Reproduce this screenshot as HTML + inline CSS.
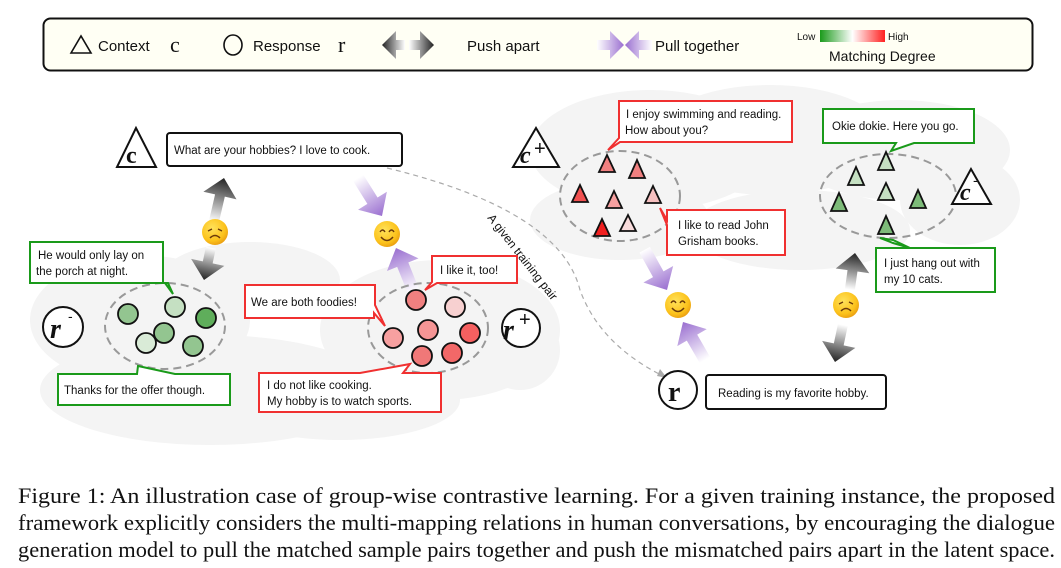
<!DOCTYPE html>
<html><head><meta charset="utf-8"><style>
html,body{margin:0;padding:0;background:#fff;}
svg{display:block;font-family:"Liberation Sans",sans-serif;}
.bt{font-size:11.5px;fill:#111;}
.cap{font-size:22px;fill:#111;}
</style></head><body>
<svg width="1061" height="568" viewBox="0 0 1061 568" xmlns="http://www.w3.org/2000/svg">
<defs>
<linearGradient id="gg" x1="0" x2="1" y1="0" y2="0"><stop offset="0" stop-color="#fff"/><stop offset="1" stop-color="#222"/></linearGradient>
<linearGradient id="ggr" x1="1" x2="0" y1="0" y2="0"><stop offset="0" stop-color="#fff"/><stop offset="1" stop-color="#222"/></linearGradient>
<linearGradient id="pg" x1="0" x2="1" y1="0" y2="0"><stop offset="0" stop-color="#fff"/><stop offset="1" stop-color="#9a6fd0"/></linearGradient>
<linearGradient id="scale" x1="0" x2="1"><stop offset="0" stop-color="#1a9a1a"/><stop offset="0.5" stop-color="#fff"/><stop offset="1" stop-color="#ff2020"/></linearGradient>
<radialGradient id="emo" cx="0.4" cy="0.35" r="0.7"><stop offset="0" stop-color="#ffe25a"/><stop offset="0.7" stop-color="#fcc21b"/><stop offset="1" stop-color="#e89a10"/></radialGradient>
</defs>

<!-- legend -->
<rect x="43.5" y="18.5" width="989" height="52" rx="7" fill="#fffff4" stroke="#111" stroke-width="2"/>
<polygon points="71,53 81,36 91,53" fill="none" stroke="#111" stroke-width="1.6"/>
<text x="98" y="51" font-size="15" fill="#111">Context</text>
<text x="170" y="52" font-size="22" font-family="Liberation Serif,serif" fill="#111">c</text>
<ellipse cx="233" cy="45" rx="9" ry="10" fill="none" stroke="#111" stroke-width="1.6"/>
<text x="253" y="51" font-size="15" fill="#111">Response</text>
<text x="338" y="52" font-size="22" font-family="Liberation Serif,serif" fill="#111">r</text>
<polygon points="382,45 396,31 396,40 405,40 405,50 396,50 396,59" fill="url(#ggr)"/>
<polygon points="420,31 434,45 420,59 420,50 409,50 409,40 420,40" fill="url(#gg)"/>
<text x="467" y="51" font-size="15" fill="#111">Push apart</text>
<polygon points="597,40 610,40 610,31 624,45 610,59 610,50 597,50" fill="url(#pg)"/>
<polygon points="625,40 638,40 638,31 652,45 638,59 638,50 625,50" fill="url(#pg)" transform="rotate(180 638.5 45)"/>
<text x="655" y="51" font-size="15" fill="#111">Pull together</text>
<text x="797" y="40" font-size="10" fill="#111">Low</text>
<rect x="820" y="30" width="65" height="12" fill="url(#scale)"/>
<text x="888" y="40" font-size="10" fill="#111">High</text>
<text x="829" y="61" font-size="14" fill="#111">Matching Degree</text>

<!-- gray clouds -->
<g fill="#f4f4f4">
<ellipse cx="140" cy="320" rx="110" ry="65"/>
<ellipse cx="250" cy="280" rx="90" ry="38"/>
<ellipse cx="210" cy="390" rx="170" ry="55"/>
<ellipse cx="340" cy="400" rx="120" ry="40"/>
<ellipse cx="440" cy="330" rx="120" ry="70"/>
<ellipse cx="520" cy="350" rx="40" ry="40"/>
<ellipse cx="650" cy="150" rx="120" ry="60"/>
<ellipse cx="770" cy="140" rx="120" ry="55"/>
<ellipse cx="900" cy="150" rx="110" ry="50"/>
<ellipse cx="620" cy="220" rx="90" ry="40"/>
<ellipse cx="800" cy="230" rx="110" ry="40"/>
<ellipse cx="960" cy="200" rx="60" ry="45"/>
</g>

<!-- dashed training pair curve -->
<path d="M387,168 Q560,210 580,290 Q600,345 665,377" fill="none" stroke="#aaa" stroke-width="1.2" stroke-dasharray="5,4"/>
<polygon points="667,378 657,376 660,369" fill="#aaa"/>
<text x="0" y="0" font-size="12" fill="#111" transform="translate(487,218) rotate(52)">A given training pair</text>

<!-- left context -->
<polygon points="136,128 117,167 156,167" fill="#fff" stroke="#111" stroke-width="2"/>
<text x="126" y="163" font-size="24" font-family="Liberation Serif,serif" font-weight="bold" fill="#111">c</text>
<rect x="167" y="133" width="235" height="33" rx="3" fill="#fff" stroke="#111" stroke-width="2"/>
<text x="174" y="154" class="bt">What are your hobbies? I love to cook.</text>

<!-- arrows -->
<g transform="translate(224,178) rotate(-77)"><polygon points="-45,-5 -18,-5 -18,-17 0,0 -18,17 -18,5 -45,5" fill="url(#gg)"/></g>
<g transform="translate(204,280) rotate(102)"><polygon points="-33,-5 -18,-5 -18,-17 0,0 -18,17 -18,5 -33,5" fill="url(#gg)"/></g>
<g transform="translate(382,216) rotate(58)"><polygon points="-45,-6 -18,-6 -18,-17 0,0 -18,17 -18,6 -45,6" fill="url(#pg)"/></g>
<g transform="translate(396,248) rotate(-112)"><polygon points="-47,-6 -18,-6 -18,-17 0,0 -18,17 -18,6 -47,6" fill="url(#pg)"/></g>
<g transform="translate(667,290) rotate(61)"><polygon points="-46,-6 -18,-6 -18,-17 0,0 -18,17 -18,6 -46,6" fill="url(#pg)"/></g>
<g transform="translate(683,322) rotate(-120)"><polygon points="-44,-6 -18,-6 -18,-17 0,0 -18,17 -18,6 -44,6" fill="url(#pg)"/></g>
<g transform="translate(855,253) rotate(-82)"><polygon points="-37,-5 -18,-5 -18,-17 0,0 -18,17 -18,5 -37,5" fill="url(#gg)"/></g>
<g transform="translate(835,362) rotate(102)"><polygon points="-38,-5 -18,-5 -18,-17 0,0 -18,17 -18,5 -38,5" fill="url(#gg)"/></g>

<!-- emojis -->
<g transform="translate(215,232)"><circle r="13" fill="url(#emo)"/><path d="M-7,-1 l4,-2 M7,-1 l-4,-2" stroke="#6b3a0a" stroke-width="1.3" fill="none"/><path d="M-5,6 Q0,1 5,6" stroke="#6b3a0a" stroke-width="1.5" fill="none"/></g>
<g transform="translate(387,234)"><circle r="13" fill="url(#emo)"/><path d="M-7,-2 Q-4.5,-6 -2,-2 M2,-2 Q4.5,-6 7,-2" stroke="#6b3a0a" stroke-width="1.4" fill="none"/><path d="M-6,3 Q0,10 6,3" stroke="#6b3a0a" stroke-width="1.5" fill="none"/></g>
<g transform="translate(678,305)"><circle r="13" fill="url(#emo)"/><path d="M-7,-2 Q-4.5,-6 -2,-2 M2,-2 Q4.5,-6 7,-2" stroke="#6b3a0a" stroke-width="1.4" fill="none"/><path d="M-6,3 Q0,10 6,3" stroke="#6b3a0a" stroke-width="1.5" fill="none"/></g>
<g transform="translate(846,305)"><circle r="13" fill="url(#emo)"/><path d="M-7,-1 l4,-2 M7,-1 l-4,-2" stroke="#6b3a0a" stroke-width="1.3" fill="none"/><path d="M-5,6 Q0,1 5,6" stroke="#6b3a0a" stroke-width="1.5" fill="none"/></g>

<!-- r- cluster -->
<circle cx="63" cy="327" r="20" fill="#fff" stroke="#111" stroke-width="2"/>
<text x="50" y="338" font-size="28" font-style="italic" font-family="Liberation Serif,serif" font-weight="bold" fill="#111">r</text>
<text x="68" y="321" font-size="14" fill="#111">-</text>
<ellipse cx="165" cy="326" rx="60" ry="43" fill="none" stroke="#999" stroke-width="2" stroke-dasharray="8,5"/>
<g stroke="#111" stroke-width="1.8">
<circle cx="128" cy="314" r="10" fill="#93c590"/>
<circle cx="175" cy="307" r="10" fill="#c5e0c2"/>
<circle cx="206" cy="318" r="10" fill="#5fae5b"/>
<circle cx="164" cy="333" r="10" fill="#93c590"/>
<circle cx="193" cy="346" r="10" fill="#93c590"/>
<circle cx="146" cy="343" r="10" fill="#d9ebd7"/>
</g>
<path d="M30,242 H163 V283 H168 L173,294 L165,283 H30 Z" fill="#fff" stroke="#1a9a1a" stroke-width="2"/>
<text x="38" y="259" class="bt">He would only lay on</text>
<text x="36" y="275" class="bt">the porch at night.</text>
<path d="M58,374 H137 L138,366 L175,374 H230 V405 H58 Z" fill="#fff" stroke="#1a9a1a" stroke-width="2"/>
<text x="64" y="394" class="bt">Thanks for the offer though.</text>

<!-- r+ cluster -->
<ellipse cx="428" cy="328" rx="60" ry="45" fill="none" stroke="#999" stroke-width="2" stroke-dasharray="8,5"/>
<g stroke="#111" stroke-width="1.8">
<circle cx="416" cy="300" r="10" fill="#f08080"/>
<circle cx="455" cy="307" r="10" fill="#f7d0d0"/>
<circle cx="393" cy="338" r="10" fill="#f7a0a0"/>
<circle cx="428" cy="330" r="10" fill="#f59595"/>
<circle cx="470" cy="333" r="10" fill="#f56060"/>
<circle cx="422" cy="356" r="10" fill="#f07878"/>
<circle cx="452" cy="353" r="10" fill="#f26868"/>
</g>
<path d="M432,256 H517 V283 H437 L425,290 L432,282 Z" fill="#fff" stroke="#f03030" stroke-width="2"/>
<text x="440" y="274" class="bt">I like it, too!</text>
<path d="M245,285 H375 V305 L385,326 L374,313 V318 H245 Z" fill="#fff" stroke="#f03030" stroke-width="2"/>
<text x="251" y="306" class="bt">We are both foodies!</text>
<path d="M259,373 H360 L410,364 L403,373 H441 V412 H259 Z" fill="#fff" stroke="#f03030" stroke-width="2"/>
<text x="267" y="389" class="bt">I do not like cooking.</text>
<text x="267" y="405" class="bt">My hobby is to watch sports.</text>
<circle cx="521" cy="328" r="19" fill="#fff" stroke="#111" stroke-width="2"/>
<text x="503" y="339" font-size="28" font-style="italic" font-family="Liberation Serif,serif" font-weight="bold" fill="#111">r</text>
<text x="519" y="326" font-size="20" fill="#111">+</text>

<!-- c+ cluster -->
<polygon points="536,128 513,167 559,167" fill="#fff" stroke="#111" stroke-width="2"/>
<text x="520" y="163" font-size="24" font-style="italic" font-family="Liberation Serif,serif" font-weight="bold" fill="#111">c</text>
<text x="534" y="155" font-size="20" fill="#111">+</text>
<ellipse cx="620" cy="196" rx="60" ry="45" fill="none" stroke="#999" stroke-width="2" stroke-dasharray="8,5"/>
<g stroke="#111" stroke-width="1.8">
<polygon points="607,155 599,172 615,172" fill="#f08080"/>
<polygon points="637,160 629,178 645,178" fill="#f08080"/>
<polygon points="580,185 572,202 588,202" fill="#f05050"/>
<polygon points="614,191 606,208 622,208" fill="#f7a0a0"/>
<polygon points="653,186 645,203 661,203" fill="#f7c0c0"/>
<polygon points="602,219 594,236 610,236" fill="#f02020"/>
<polygon points="628,215 620,231 636,231" fill="#f9dcdc"/>
</g>
<path d="M619,101 H792 V142 H620 L608,150 L619,138 Z" fill="#fff" stroke="#f03030" stroke-width="2"/>
<text x="626" y="118" class="bt">I enjoy swimming and reading.</text>
<text x="625" y="134" class="bt">How about you?</text>
<path d="M667,210 H785 V255 H667 V225 L660,208 L667,220 Z" fill="#fff" stroke="#f03030" stroke-width="2"/>
<text x="678" y="229" class="bt">I like to read John</text>
<text x="678" y="245" class="bt">Grisham books.</text>

<!-- r anchor -->
<circle cx="678" cy="390" r="19" fill="#fff" stroke="#111" stroke-width="2"/>
<text x="668" y="401" font-size="28" font-family="Liberation Serif,serif" font-weight="bold" fill="#111">r</text>
<rect x="706" y="375" width="180" height="34" rx="3" fill="#fff" stroke="#111" stroke-width="2"/>
<text x="718" y="397" class="bt">Reading is my favorite hobby.</text>

<!-- c- cluster -->
<ellipse cx="888" cy="196" rx="68" ry="42" fill="none" stroke="#999" stroke-width="2" stroke-dasharray="8,5"/>
<g stroke="#111" stroke-width="1.8">
<polygon points="886,152 878,170 894,170" fill="#c5e0c2"/>
<polygon points="856,167 848,185 864,185" fill="#c5e0c2"/>
<polygon points="886,183 878,200 894,200" fill="#c5e0c2"/>
<polygon points="839,193 831,211 847,211" fill="#7dbb79"/>
<polygon points="918,190 910,208 926,208" fill="#7dbb79"/>
<polygon points="886,216 878,234 894,234" fill="#7dbb79"/>
</g>
<path d="M823,109 H974 V143 H914 L891,151 L896,143 H823 Z" fill="#fff" stroke="#1a9a1a" stroke-width="2"/>
<text x="832" y="130" class="bt">Okie dokie. Here you go.</text>
<path d="M876,248 H910 L893,240 L880,238 L893,243 L910,248 H995 V292 H876 Z" fill="#fff" stroke="#1a9a1a" stroke-width="2"/>
<text x="884" y="267" class="bt">I just hang out with</text>
<text x="884" y="283" class="bt">my 10 cats.</text>
<polygon points="971,169 952,204 991,204" fill="#fff" stroke="#111" stroke-width="2"/>
<text x="960" y="200" font-size="24" font-style="italic" font-family="Liberation Serif,serif" font-weight="bold" fill="#111">c</text>
<text x="973" y="185" font-size="14" fill="#111">-</text>

<!-- caption -->
<g font-family="Liberation Serif,serif">
<text class="cap" x="18" y="503" textLength="1037" lengthAdjust="spacingAndGlyphs">Figure 1:  An illustration case of group-wise contrastive learning.  For a given training instance, the proposed</text>
<text class="cap" x="18" y="530" textLength="1037" lengthAdjust="spacingAndGlyphs">framework explicitly considers the multi-mapping relations in human conversations, by encouraging the dialogue</text>
<text class="cap" x="18" y="557" textLength="1037" lengthAdjust="spacingAndGlyphs">generation model to pull the matched sample pairs together and push the mismatched pairs apart in the latent space.</text>
</g>
</svg>
</body></html>
